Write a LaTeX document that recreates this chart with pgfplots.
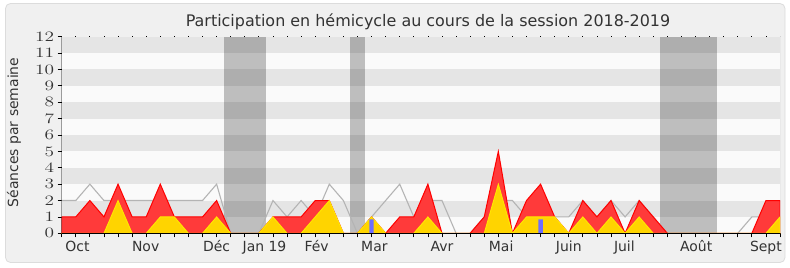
\documentclass[border=0pt]{standalone}
\usepackage{graphicx}
\usepackage{pgfplots}
\pgfplotsset{compat=1.18}
\usepackage{pgfplotstable}
\usepackage{fontspec}
\setmainfont{DejaVu Sans}

\definecolor{bgout}{RGB}{240,240,240}
\definecolor{bgborder}{RGB}{220,220,220}
\definecolor{stripe}{RGB}{229,229,229}
\definecolor{plotbg}{RGB}{250,250,250}
\definecolor{redfill}{RGB}{255,58,58}
\definecolor{redline}{RGB}{255,0,0}
\definecolor{yelfill}{RGB}{255,212,0}
\definecolor{yelline}{RGB}{255,232,0}
\definecolor{grayline}{RGB}{180,180,180}
\definecolor{bluebar}{RGB}{110,110,255}
\definecolor{textgray}{RGB}{51,51,51}

\pgfplotstableread{
x g r a
0 2 1 0
1 2 1 0
2 3 2 0
3 2 1 0
4 2 3 2
5 2 1 0
6 2 1 0
7 2 3 1
8 2 1 1
9 2 1 0
10 2 1 0
11 3 2 1
12 0 0 0
13 0 0 0
14 0 0 0
15 2 1 1
16 1 1 0
17 2 1 0
18 1 2 1
19 3 2 2
20 2 0 0
21 0 0 0
22 1 1 1
23 2 0 0
24 3 1 0
25 1 1 0
26 2 3 1
27 2 0 0
28 0 0 0
29 0 0 0
30 1 1 0
31 2 5 3
32 2 0 0
33 1 2 1
34 2 3 1
35 1 1 1
36 1 0 0
37 2 2 1
38 1 1 0
39 2 2 1
40 1 0 0
41 2 2 1
42 1 1 0
43 0 0 0
44 0 0 0
45 0 0 0
46 0 0 0
47 0 0 0
48 0 0 0
49 1 0 0
50 1 2 0
51 2 2 1
}\data

\begin{document}
\begin{tikzpicture}[x=1bp,y=1bp]
\path[use as bounding box] (0,0) rectangle (790,267);
\fill[white] (0,0) rectangle (790,267);
\draw[bgborder, fill=bgout, rounded corners=5bp, line width=0.8bp] (5.5,4.5) rectangle (785,263.5);
\node[anchor=base, text=textgray, font=\fontsize{16}{19}\selectfont] at (428,240.3) {Participation en hémicycle au cours de la session 2018-2019};
\node[rotate=90, text=textgray, font=\fontsize{14}{17}\selectfont] at (14,134.5) {Séances par semaine};
\begin{axis}[
  at={(61.7bp,33.7bp)}, anchor=south west,
  scale only axis, width=718.3bp, height=196.6bp,
  xmin=0, xmax=51, ymin=0, ymax=12,
  axis line style={draw=none},
  axis background/.style={fill=plotbg},
  ytick={0,...,12},
  xtick={0,...,51}, xticklabels={},
  xtick pos=bottom, ytick pos=left,
  tick align=outside, major tick length=4bp,
  every tick/.style={black, line width=0.8bp},
  yticklabel style={font=\fontsize{15}{18}\selectfont, text=textgray},
  yticklabel={\scalebox{1.35}[1]{$\pgfmathprintnumber{\tick}$}},
  extra x ticks={1.12,5.96,11.0,14.4,18.1,22.2,27.0,31.2,36.0,39.95,45.05,50.0},
  extra x tick labels={Oct,Nov,Déc,Jan 19,Fév,Mar,Avr,Mai,Juin,Juil,Août,Sept},
  extra x tick style={major tick length=0pt,
    tick label style={font=\fontsize{14}{17}\selectfont, text=textgray, anchor=base, yshift=-18.4bp}},
  clip=true,
]
\fill[stripe] (axis cs:0,1) rectangle (axis cs:51,2);
\fill[stripe] (axis cs:0,3) rectangle (axis cs:51,4);
\fill[stripe] (axis cs:0,5) rectangle (axis cs:51,6);
\fill[stripe] (axis cs:0,7) rectangle (axis cs:51,8);
\fill[stripe] (axis cs:0,9) rectangle (axis cs:51,10);
\fill[stripe] (axis cs:0,11) rectangle (axis cs:51,12);
\addplot[fill=black, fill opacity=0.24, draw=none] coordinates {(11.5,12) (14.5,12)} \closedcycle;
\addplot[fill=black, fill opacity=0.24, draw=none] coordinates {(20.5,12) (21.5,12)} \closedcycle;
\addplot[fill=black, fill opacity=0.24, draw=none] coordinates {(42.5,12) (46.5,12)} \closedcycle;
\addplot[grayline, line width=1.1bp] table[x=x, y=g] {\data};
\addplot[fill=redfill, draw=redline, line width=1bp] table[x=x, y=r] {\data} \closedcycle;
\addplot[fill=yelfill, draw=yelline, line width=0.9bp] table[x=x, y=a] {\data} \closedcycle;
\addplot[ybar, bar width=0.31, fill=bluebar, draw=none] coordinates {(22,0.85) (34,0.85)};
\draw[black, line width=0.8bp] (rel axis cs:0,1) -- (rel axis cs:0,0) -- (rel axis cs:1,0);
\draw[black!25, line width=0.8bp] (rel axis cs:1,0) -- (rel axis cs:1,1);
\pgfplotsinvokeforeach{0,...,51}{\draw[black, line width=0.8bp] (axis cs:#1,12) -- ++(0,1.3bp);}
\end{axis}
\end{tikzpicture}
\end{document}
